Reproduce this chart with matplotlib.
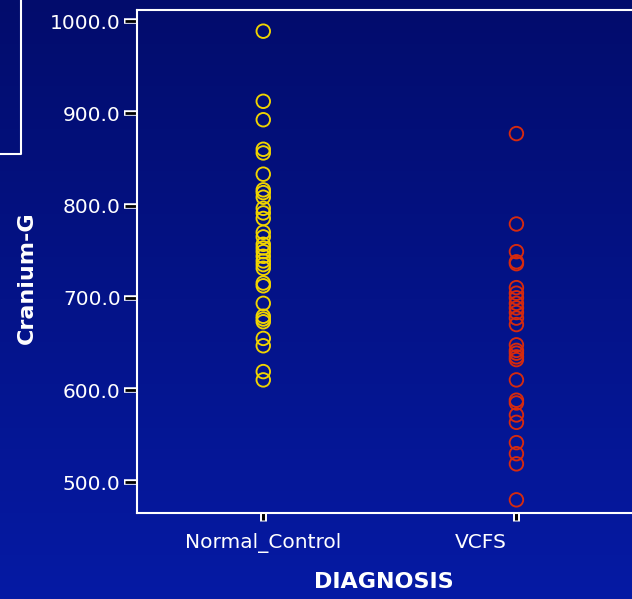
import numpy as np
import matplotlib
matplotlib.use("Agg")
import matplotlib.pyplot as plt
from matplotlib.lines import Line2D
from matplotlib.transforms import ScaledTranslation

# groupes et valeurs
categories = ["Normal_Control", "VCFS"]
normal_control = [989, 913, 893, 861, 857, 834, 817, 814, 809, 797, 792, 786,
                  771, 766, 758, 754, 750, 745, 740, 736, 732, 716, 713, 694,
                  680, 677, 674, 656, 648, 620, 611]
vcfs = [878, 780, 750, 739, 737, 711, 705, 700, 694, 689, 684, 678, 671,
        649, 643, 640, 636, 633, 611, 589, 586, 573, 565, 543, 531, 520, 481]
yticks = [500, 600, 700, 800, 900, 1000]

W, H = 632, 599
fig = plt.figure(figsize=(W / 100, H / 100), dpi=100)

# fond en dégradé
bg = fig.add_axes([0, 0, 1, 1], zorder=-10)
grad = np.linspace(0, 1, 256).reshape(-1, 1)
top = np.array([2, 12, 108]) / 255
bot = np.array([6, 26, 164]) / 255
img = top + (bot - top) * grad[:, :, None]
bg.imshow(img, aspect="auto", extent=[0, 1, 0, 1], origin="upper")
bg.axis("off")

# axes (le bord droit sort de l'image)
x0, x1 = 136.7, 643
y_top, y_bot = 9.5, 513.3
ax = fig.add_axes([x0 / W, 1 - y_bot / H, (x1 - x0) / W, (y_bot - y_top) / H])
ax.patch.set_alpha(0)

ax.scatter(np.zeros(len(normal_control)), normal_control, s=95,
           facecolors="none", edgecolors="#f0d400", linewidths=1.35, zorder=3)
ax.scatter(np.ones(len(vcfs)), vcfs, s=95,
           facecolors="none", edgecolors="#d62a0e", linewidths=1.35, zorder=3)

ax.set_xlim(-0.5, 1.5)
ax.set_ylim(466.4, 1012.5)

for side in ["left", "bottom", "top", "right"]:
    ax.spines[side].set_color("white")
    ax.spines[side].set_linewidth(1.5)

ax.set_yticks(yticks)
ax.set_yticklabels([f"{v:.1f}" for v in yticks])
ax.set_xticks([0, 1])
ax.set_xticklabels(categories)

# ticks : contour blanc (major) + intérieur noir (minor)
ax.xaxis.remove_overlapping_locs = False
ax.yaxis.remove_overlapping_locs = False
ax.set_yticks(yticks, minor=True)
ax.set_xticks([0, 1], minor=True)
ax.tick_params(axis="y", which="major", length=9.5, width=4, color="white",
               labelcolor="white", labelsize=14.5, pad=2)
ax.tick_params(axis="y", which="minor", length=8.5, width=2, color="black")
ax.tick_params(axis="x", which="major", length=6, width=5, color="white",
               labelcolor="white", labelsize=14.5, pad=8)
ax.tick_params(axis="x", which="minor", length=5, width=2.2, color="black")

# l'étiquette VCFS est décalée vers la gauche dans l'original
lab = ax.xaxis.get_major_ticks()[1].label1
lab.set_transform(lab.get_transform() + ScaledTranslation(-36 / 100, 0, fig.dpi_scale_trans))

fig.text(27 / W, 1 - 278 / H, "Cranium-G", rotation=90, color="white",
         fontsize=16, fontweight="bold", ha="center", va="center")
fig.text(384 / W, 1 - 582 / H, "DIAGNOSIS", color="white",
         fontsize=16, fontweight="bold", ha="center", va="center")

# cadre coupé en haut à gauche
fig.add_artist(Line2D([21 / W, 21 / W, 0], [1, 1 - 153.5 / H, 1 - 153.5 / H],
                      color="white", linewidth=1.5, transform=fig.transFigure))

fig.savefig("out.png", dpi=100)
